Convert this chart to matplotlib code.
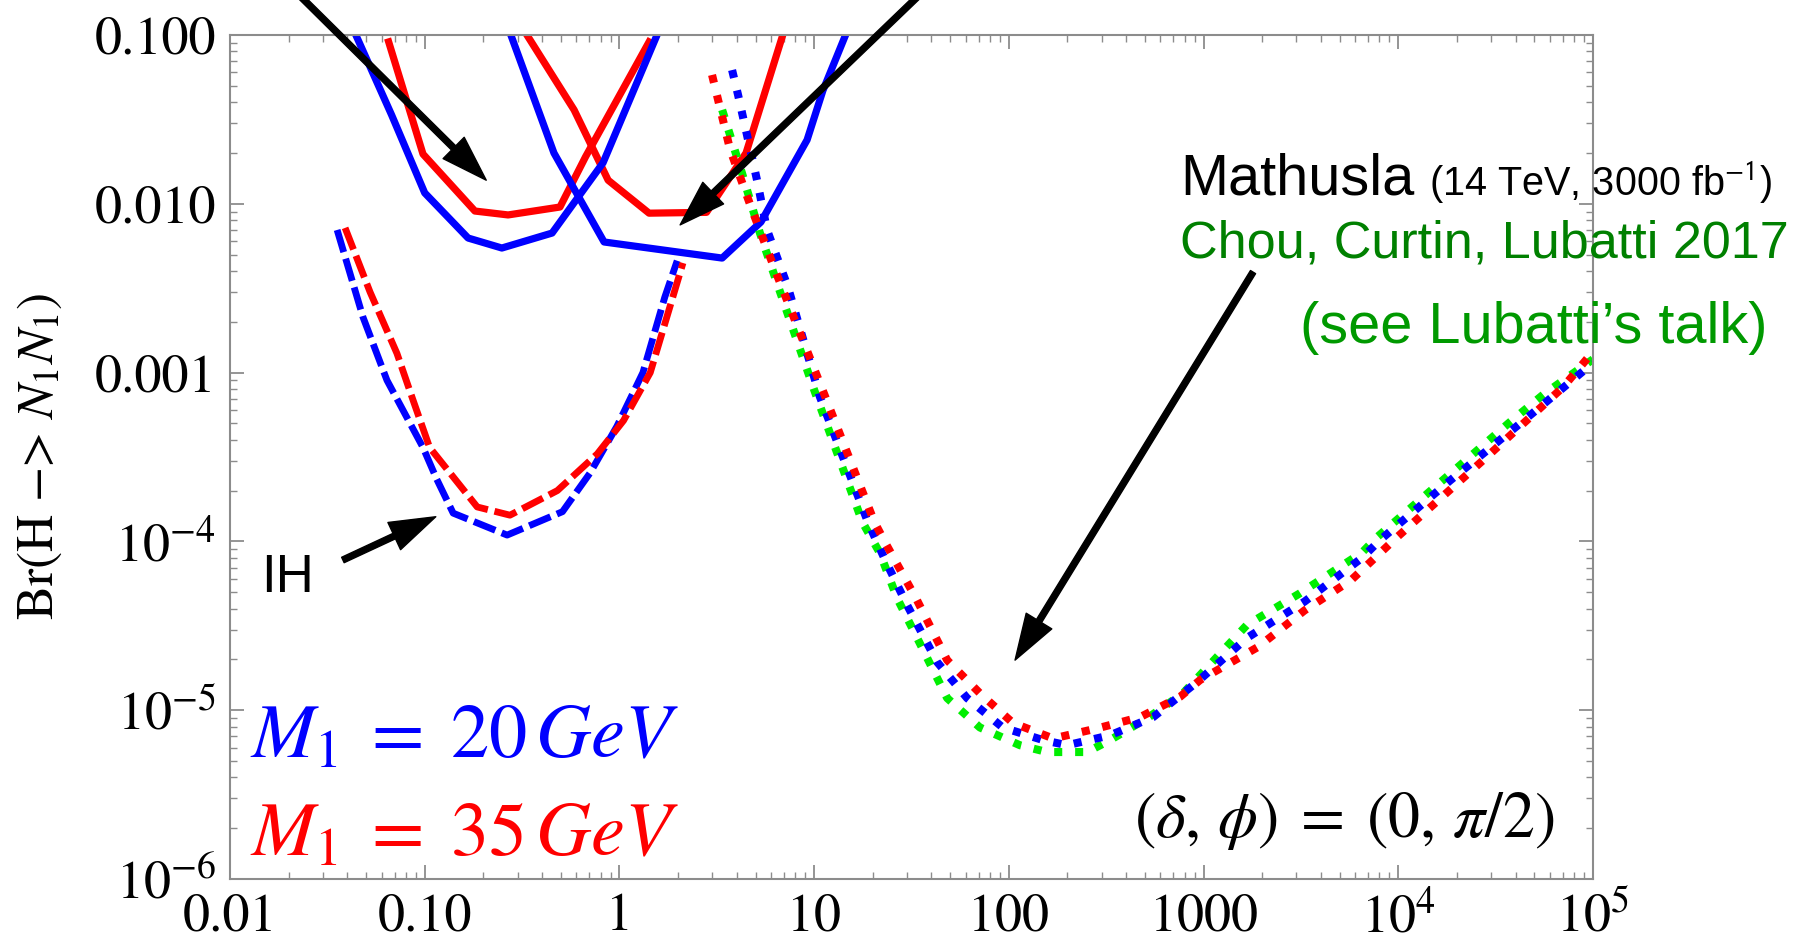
import matplotlib
matplotlib.use("Agg")
import matplotlib.pyplot as plt
from matplotlib.ticker import LogLocator, NullFormatter

plt.rcParams['mathtext.fontset'] = 'stix'

W, H = 1806, 940

# solid curves (NH), M1 = 20 GeV (blue) and 35 GeV (red)
blue_a_x = [0.0443, 0.0676, 0.1, 0.167, 0.249, 0.451, 0.824, 1.56]
blue_a_y = [0.1, 0.0336, 0.0116, 0.00627, 0.00547, 0.00671, 0.0175, 0.1]
blue_b_x = [0.277, 0.461, 0.834, 3.37, 5.33, 9.2, 11.1, 14.5]
blue_b_y = [0.1, 0.02, 0.00594, 0.00477, 0.0078, 0.0239, 0.047, 0.1]
red_a_x = [0.0653, 0.098, 0.181, 0.268, 0.495, 0.67, 1.42]
red_a_y = [0.091, 0.0197, 0.00906, 0.00859, 0.00957, 0.019, 0.091]
red_b_x = [0.335, 0.585, 0.875, 1.42, 2.8, 4.47, 6.9]
red_b_y = [0.1, 0.036, 0.0138, 0.0088, 0.0089, 0.02, 0.1]

# dashed curves (IH)
ih_blue_x = [0.0355, 0.0482, 0.064, 0.098, 0.115, 0.14, 0.265, 0.51, 0.706,
             0.97, 1.13, 1.32, 1.71, 1.98]
ih_blue_y = [7.0e-3, 2.13e-3, 9.0e-4, 3.6e-4, 2.35e-4, 1.47e-4, 1.09e-4,
             1.5e-4, 2.54e-4, 4.8e-4, 6.9e-4, 1.0e-3, 2.8e-3, 4.6e-3]
ih_red_x = [0.039, 0.0524, 0.072, 0.087, 0.106, 0.186, 0.274, 0.48, 0.77,
            1.05, 1.44, 2.12]
ih_red_y = [7.2e-3, 3.0e-3, 1.3e-3, 6.9e-4, 3.6e-4, 1.6e-4, 1.43e-4,
            2.0e-4, 3.3e-4, 5.2e-4, 1.0e-3, 4.46e-3]

# dotted curves (Mathusla)
mat_red_x = [2.99, 3.7, 4.8, 6.3, 11.4, 20.4, 23.1, 33.7, 48.2, 71, 105,
             169, 284, 472, 757, 960, 1905, 3300, 5730, 9860, 27300, 70200, 1e5]
mat_red_y = [0.058, 0.021, 0.0092, 0.00405, 7.2e-4, 1.3e-4, 9.9e-5, 4.5e-5,
             1.98e-5, 1.26e-5, 8.4e-6, 6.8e-6, 7.8e-6, 9.1e-6, 1.2e-5,
             1.51e-5, 2.37e-5, 3.9e-5, 5.9e-5, 1.06e-4, 3.03e-4, 8.2e-4, 1.33e-3]
mat_blue_x = [3.79, 4.07, 5.09, 5.73, 7.34, 10.7, 18.9, 23.1, 30, 42.8, 61,
              93, 150, 199, 331, 551, 927, 1670, 3300, 6520, 8070, 18500,
              42300, 1e5]
mat_blue_y = [0.062, 0.044, 0.0138, 7.0e-3, 3.2e-3, 7.2e-4, 1.3e-4, 7.8e-5,
              4.2e-5, 1.93e-5, 1.18e-5, 7.9e-6, 6.65e-6, 6.2e-6, 7.1e-6,
              9.1e-6, 1.47e-5, 2.68e-5, 4.4e-5, 8.0e-5, 1.02e-4, 2.3e-4,
              5.0e-4, 1.14e-3]
mat_green_x = [3.37, 4.26, 5.27, 6.44, 10.0, 17.7, 21.8, 26.7, 33.7, 48.2,
               71, 114, 157, 252, 331, 524, 785, 1670, 3100, 6520, 7780,
               37500, 55500, 1e5]
mat_green_y = [0.036, 0.0152, 6.7e-3, 3.4e-3, 7.9e-4, 1.3e-4, 8.5e-5, 4.6e-5,
               2.7e-5, 1.18e-5, 7.9e-6, 6.2e-6, 5.65e-6, 5.65e-6, 6.65e-6,
               9.1e-6, 1.26e-5, 3.2e-5, 4.9e-5, 8.6e-5, 1.06e-4, 5.1e-4,
               7.4e-4, 1.2e-3]

xticks = [0.01, 0.1, 1, 10, 100, 1000, 1e4, 1e5]
xtick_labels = ['0.01', '0.10', '1', '10', '100', '1000', '$10^{4}$', '$10^{5}$']
yticks = [1e-6, 1e-5, 1e-4, 1e-3, 1e-2, 0.1]
ytick_labels = ['$10^{-6}$', '$10^{-5}$', '$10^{-4}$', '0.001', '0.010', '0.100']

# arrows: (tip, tail) in data coordinates
arrows = [
    ((0.207, 0.0138), (0.0189, 0.212)),
    ((2.05, 7.5e-3), (41.8, 0.212)),
    ((0.114, 1.40e-4), (0.038, 7.76e-5)),
    ((107.6, 1.98e-5), (1795, 3.94e-3)),
]

BLUE, RED, GREEN = '#0000ff', '#ff0000', '#00ee00'
GRAY = '#8c8c8c'

fig = plt.figure(figsize=(W / 100, H / 100), dpi=100)
ax = fig.add_axes([230 / W, 1 - 879 / H, (1593 - 230) / W, (879 - 35) / H])

lw = 5.2
ax.plot(red_a_x, red_a_y, color=RED, lw=lw)
ax.plot(red_b_x, red_b_y, color=RED, lw=lw)
ax.plot(blue_a_x, blue_a_y, color=BLUE, lw=lw)
ax.plot(blue_b_x, blue_b_y, color=BLUE, lw=lw)

dash = dict(lw=4.9, dashes=(3.4, 1.0), dash_capstyle='butt')
ax.plot(ih_blue_x, ih_blue_y, color=BLUE, **dash)
ax.plot(ih_red_x, ih_red_y, color=RED, **dash)

dot = dict(lw=5.8, dashes=(1.0, 1.6), dash_capstyle='butt')
ax.plot(mat_green_x, mat_green_y, color=GREEN, **dot)
ax.plot(mat_blue_x, mat_blue_y, color=BLUE, **dot)
ax.plot(mat_red_x, mat_red_y, color=RED, **dot)

ax.set_xscale('log')
ax.set_yscale('log')
ax.set_xlim(0.01, 1e5)
ax.set_ylim(1e-6, 0.1)

ax.set_xticks(xticks, xtick_labels)
ax.set_yticks(yticks, ytick_labels)
ax.xaxis.set_minor_locator(LogLocator(base=10, subs=range(2, 10), numticks=20))
ax.yaxis.set_minor_locator(LogLocator(base=10, subs=range(2, 10), numticks=20))
ax.xaxis.set_minor_formatter(NullFormatter())
ax.yaxis.set_minor_formatter(NullFormatter())
ax.tick_params(which='both', direction='in', top=True, right=True, color=GRAY)
ax.tick_params(which='major', length=10, width=1.3, labelsize=39, pad=10)
ax.tick_params(which='minor', length=5, width=1.0)
for lab in ax.get_xticklabels() + ax.get_yticklabels():
    lab.set_fontfamily('STIXGeneral')
for sp in ax.spines.values():
    sp.set_color(GRAY)
    sp.set_linewidth(1.5)

fig.text(40 / W, 1 - 456 / H, 'Br(H \u2212> $N_1N_1$)', rotation=90,
         ha='center', va='center', fontsize=37, family='STIXGeneral')

for tip, tail in arrows:
    ax.annotate('', xy=tip, xytext=tail, annotation_clip=False,
                arrowprops=dict(facecolor='black', edgecolor='black',
                                width=4.3, headwidth=21.6, headlength=33,
                                shrink=0))


def ftext(px, py, s, **kw):
    fig.text(px / W, 1 - py / H, s, ha='left', va='baseline', **kw)


sans = 'Liberation Sans'
ftext(1180, 195, 'Mathusla', fontsize=41.5, family=sans, color='black')
ftext(1429, 195, '(14 TeV, 3000 fb$^{\\mathsf{-1}}$)', fontsize=28.5, family=sans,
      color='black')
ftext(1180, 257, 'Chou, Curtin, Lubatti 2017', fontsize=37.5, family=sans,
      color='#008000')
ftext(1300, 343, '(see Lubatti\u2019s talk)', fontsize=41.5, family=sans,
      color='#009900')
ftext(261, 592, 'IH', fontsize=38, family=sans, color='black')
ftext(250, 757, r'$M_1\;=\;20\,GeV$', fontsize=55, color=BLUE)
ftext(250, 855, r'$M_1\;=\;35\,GeV$', fontsize=55, color=RED)
ftext(1134, 837, r'$(\delta,\,\phi)\;=\;(0,\,\pi/2)$', fontsize=46, color='black')

fig.savefig('out.png', dpi=100)
